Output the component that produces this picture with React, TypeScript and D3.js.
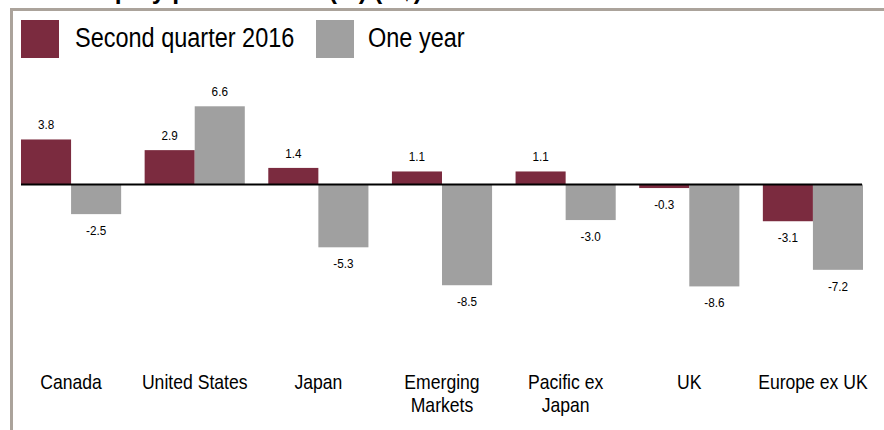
import React from "react";
import * as d3 from "d3";

const categories = ["Canada", "United States", "Japan", "Emerging\nMarkets", "Pacific ex\nJapan", "UK", "Europe ex UK"];
const quarterValues = [3.8, 2.9, 1.4, 1.1, 1.1, -0.3, -3.1];
const yearValues = [-2.5, 6.6, -5.3, -8.5, -3.0, -8.6, -7.2];
const seriesNames = ["Second quarter 2016", "One year"];
const title = "Equity performance (%) (C$)";

const W = 884;
const H = 430;
const MAROON = "#7b2b3f";
const GRAY = "#a0a0a0";
const BORDER = "#aba39b";
const FONT = "Liberation Sans, Arial, sans-serif";

function NText(props: { x: number; y: number; sx: number; size: number; anchor?: string; weight?: string; children: React.ReactNode }) {
  const { x, y, sx, size, anchor = "start", weight = "normal", children } = props;
  return (
    <text
      transform={`translate(${x},${y}) scale(${sx},1)`}
      fontFamily={FONT}
      fontSize={size}
      fontWeight={weight}
      textAnchor={anchor}
      fill="#000"
    >
      {children}
    </text>
  );
}

export default function App() {
  const x = d3.scaleBand<string>().domain(categories).range([21, 863]).paddingInner(0.19).paddingOuter(0);
  const x1 = d3.scaleBand<number>().domain([0, 1]).range([0, x.bandwidth()]).padding(0);
  const y = d3.scaleLinear().domain([-9, 7]).range([184.5 + 9 * 11.85, 184.5 - 7 * 11.85]);
  const series = [quarterValues, yearValues];
  const colors = [MAROON, GRAY];

  return (
    <svg width={W} height={H} style={{ position: "absolute", left: 0, top: 0, background: "#fff" }}>
      <rect x={0} y={0} width={W} height={H} fill="#fff" />
      <NText x={90} y={-1.5} sx={0.95} size={26} weight="bold">{title}</NText>
      <path d={`M11.5,${H} L11.5,9.5 L${W},9.5`} fill="none" stroke={BORDER} strokeWidth={3} />

      {/* legend */}
      <rect x={21} y={20} width={38} height={38} fill={MAROON} />
      <NText x={75} y={47} sx={0.87} size={27}>{seriesNames[0]}</NText>
      <rect x={316} y={20} width={38} height={38} fill={GRAY} />
      <NText x={368} y={47} sx={0.87} size={27}>{seriesNames[1]}</NText>

      {/* bars */}
      {categories.map((c, i) => (
        <g key={c}>
          {series.map((vals, s) => {
            const v = vals[i];
            const bx = (x(c) as number) + (x1(s) as number);
            const top = Math.min(y(v), y(0));
            const h = Math.abs(y(v) - y(0));
            const cx = bx + x1.bandwidth() / 2;
            const ly = v >= 0 ? y(v) - 10 : y(v) + 21;
            return (
              <g key={s}>
                <rect x={bx} y={top} width={x1.bandwidth()} height={h} fill={colors[s]} />
                <NText x={cx} y={ly} sx={0.9} size={13} anchor="middle">{v.toFixed(1)}</NText>
              </g>
            );
          })}
        </g>
      ))}

      {/* zero line */}
      <line x1={21} x2={862} y1={y(0)} y2={y(0)} stroke="#000" strokeWidth={2} />

      {/* category labels */}
      {categories.map((c) => {
        const cx = (x(c) as number) + x.bandwidth() / 2;
        return c.split("\n").map((line, k) => (
          <NText key={c + k} x={cx} y={389 + k * 23} sx={0.88} size={20} anchor="middle">{line}</NText>
        ));
      })}
    </svg>
  );
}
